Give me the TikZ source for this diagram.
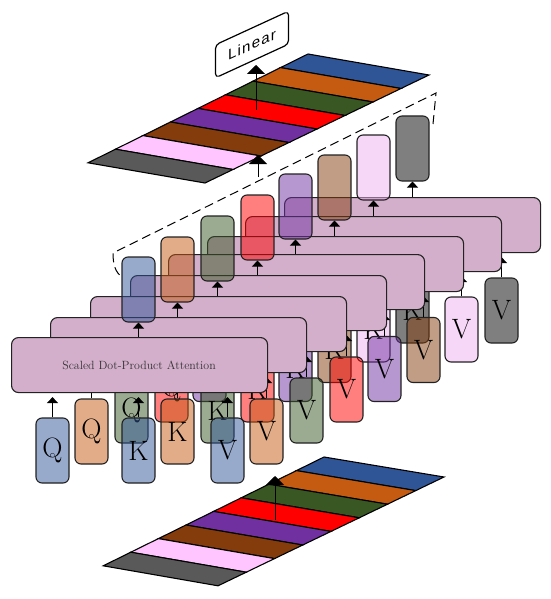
\documentclass[tikz,border=0pt]{standalone}
\usepackage{fontspec}
\usepackage{tikz}
\newfontfamily\linfont[LetterSpace=8]{Liberation Sans}
\usetikzlibrary{arrows.meta}
\definecolor{cblue}{HTML}{2F5597}
\definecolor{corange}{HTML}{C55A11}
\definecolor{cgreen}{HTML}{385723}
\definecolor{cred}{HTML}{FF0000}
\definecolor{cpurple}{HTML}{7030A0}
\definecolor{cbrown}{HTML}{843C0C}
\definecolor{cpink}{HTML}{FFC5FF}
\definecolor{cgray}{HTML}{595959}
\definecolor{boxpink}{HTML}{EFB0EF}
\definecolor{boxgray}{HTML}{000000}
\definecolor{blockfill}{HTML}{D3AFCB}
\definecolor{edge}{HTML}{222222}

\begin{document}
\begin{tikzpicture}[x=1pt, y=-1pt,
    tok/.style={draw=edge, line width=1.1pt, rounded corners=6pt, minimum width=33pt, minimum height=65pt,
        inner sep=0pt, fill opacity=0.5, text opacity=1, font=\fontsize{28}{28}\selectfont},
    block/.style={draw=edge, line width=1.1pt, rounded corners=7pt, fill=blockfill, anchor=north west,
        minimum width=256pt, minimum height=55pt, inner sep=0pt},
    arr/.style={-{Triangle[width=11pt,length=6pt]}, line width=1.1pt, black},
    bigarr/.style={-{Triangle[width=18pt,length=9pt]}, line width=1pt, black},
    band/.style={draw=black, line width=1.1pt, line join=miter}]
    \useasboundingbox (0,0) rectangle (550,599);

    % Top stripes
    \foreach \n/\col in {0/cblue,1/corange,2/cgreen,3/cred,4/cpurple,5/cbrown,6/cpink,7/cgray} {
        \fill[\col, band] (308-27.5*\n,54+13.6*\n) -- (429-28*\n,75+13.5*\n)
            -- (429-28*\n-28,75+13.5*\n+13.5) -- (308-27.5*\n-27.5,54+13.6*\n+13.6) -- cycle;
    }

    % Bottom stripes
    \foreach \n/\col in {0/cblue,1/corange,2/cgreen,3/cred,4/cpurple,5/cbrown,6/cpink,7/cgray} {
        \fill[\col, band] (324-27.6*\n,457+13.6*\n) -- (444-28.25*\n,477+13.6*\n)
            -- (444-28.25*\n-28.25,477+13.6*\n+13.6) -- (324-27.6*\n-27.6,457+13.6*\n+13.6) -- cycle;
    }

    % Linear box
    \node[draw=black, line width=1.2pt, rounded corners=4pt, fill=white, minimum width=73pt, minimum height=33pt,
        inner sep=0pt, yslant=0.46, font=\linfont\fontsize{15}{15}\selectfont] (linr) at (252,44.5) {Linear};
    \coordinate (linrin) at (256,65);
    \coordinate (slabtop) at (256,110);
    \draw[bigarr] (slabtop) -- (linrin);

    % Arrow into top stripes
    \coordinate (slabin) at (258,155);
    \coordinate (groupout) at (258,177);
    \draw[bigarr] (groupout) -- (slabin);

    % Arrow into bottom stripes
    \coordinate (embin) at (275,476);
    \coordinate (embout) at (275,520);
    \draw[bigarr] (embout) -- (embin);

    % Dashed bracket round the outputs
    \draw[dashed, line width=1pt, dash pattern=on 9pt off 5pt] (433,124) -- (436,93) -- (113,253)
        .. controls (113,264) and (115,272) .. (122,277);

    % Layers, back to front
    \foreach \i/\col/\qx/\kx/\vx/\ty/\bx/\by/\oy in {
        8/boxgray/326.5/412.5/501.5/310.5/284/197/148.5,
        7/boxpink/287.5/373.5/461.5/329.5/245/216/167.5,
        6/cbrown/248.5/334.5/423.5/350/207/236/187.5,
        5/cpurple/209.5/295.5/384.5/369/168/254/206.5,
        4/cred/171.5/257.5/346.5/389.5/130/275/227.5,
        3/cgreen/131.5/217.5/306.5/410.5/90/296/248.5,
        2/corange/91.5/177.5/266.5/431.5/50/317/269.5,
        1/cblue/52.5/138.5/227.5/450.5/11/337/289.5} {
        % Q of the back layers sits wholly behind the front block
        \node[tok, fill=\col] (q\i) at (\qx,\ty) {\ifnum\i<5 Q\fi};
        \node[tok, fill=\col] (k\i) at (\kx,\ty) {K};
        \node[tok, fill=\col] (v\i) at (\vx,\ty) {V};
        \node[block] (blk\i) at (\bx,\by) {};
        \draw[arr] (q\i.north) -- ([yshift=-4pt]q\i.north |- blk\i.south);
        \draw[arr] (k\i.north) -- ([yshift=-4pt]k\i.north |- blk\i.south);
        \draw[arr] (v\i.north) -- ([yshift=-4pt]v\i.north |- blk\i.south);
        \node[tok, fill=\col] (out\i) at (\kx,\oy) {};
        \draw[arr] (out\i.south |- blk\i.north) -- (out\i.south);
    }
    \node[font=\fontsize{11.9}{11.9}\selectfont, text=black!80] (lbl) at (139,365) {Scaled Dot-Product Attention};
\end{tikzpicture}
\end{document}
